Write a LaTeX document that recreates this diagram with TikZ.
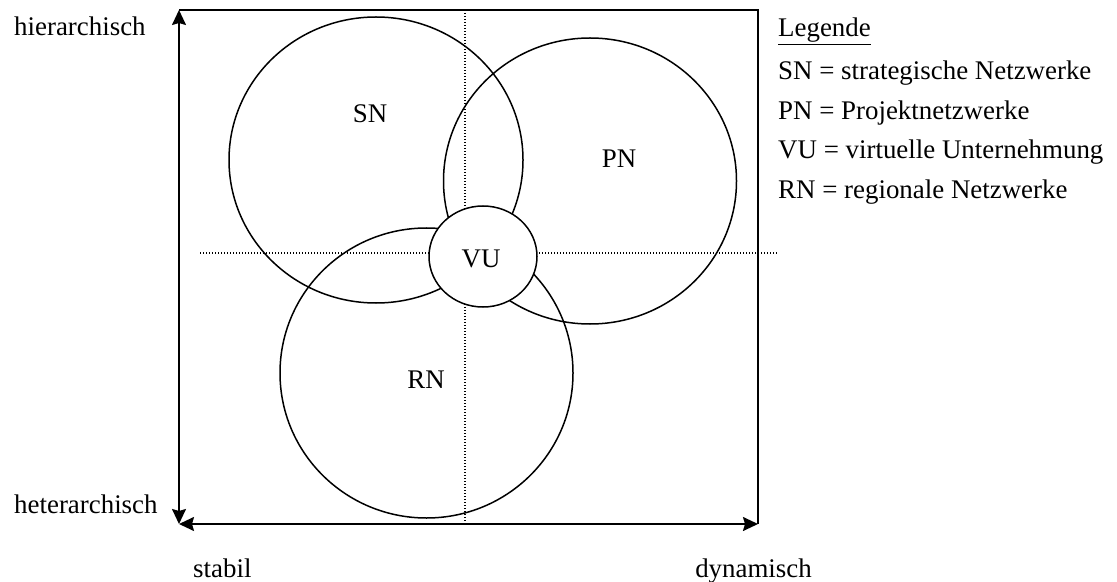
\documentclass[tikz,border=0pt]{standalone}
\usepackage{fontspec}
\setmainfont{Liberation Serif}
\usetikzlibrary{arrows.meta,shapes.geometric}
\tikzset{
  frame/.style={line width=1.8bp},
  axisarrow/.style={line width=1.8bp, {Stealth[length=15bp,width=14bp,inset=2bp]}-{Stealth[length=15bp,width=14bp,inset=2bp]}},
  guide/.style={line width=1.2bp, dash pattern=on 1.3bp off 1.7bp},
  netz/.style={draw, ellipse, line width=1.5bp, inner sep=0pt},
  lbl/.style={inner sep=0pt, anchor=base, font=\fontsize{27}{32}\selectfont},
  lblw/.style={lbl, anchor=base west},
  lble/.style={lbl, anchor=base east}
}
\begin{document}
\begin{tikzpicture}[x=1bp,y=-1bp]
\useasboundingbox (0,0) rectangle (1117,582);
% corners of the portfolio frame
\coordinate (tl) at (179,10);
\coordinate (tr) at (758,10);
\coordinate (bl) at (179,524);
\coordinate (br) at (758,524);
% dotted quadrant guides
\coordinate (vtop) at (465,13);
\coordinate (vbot) at (465,524);
\coordinate (hl) at (200,253);
\coordinate (hr) at (778,253);
\draw[guide] (vtop) -- (vbot);
\draw[guide] (hl) -- (hr);
% frame and axes
\draw[frame] (tl) -- (tr) -- (br);
\draw[axisarrow] (tl) -- (bl);
\draw[axisarrow] (bl) -- (br);
% network types
\node[netz, minimum width=294bp, minimum height=286bp] (sn) at (376,160) {};
\node[netz, minimum width=293bp, minimum height=286bp] (pn) at (590,181) {};
\node[netz, minimum width=293bp, minimum height=290bp] (rn) at (426.5,373) {};
\node[netz, fill=white, minimum width=108bp, minimum height=101bp] (vu) at (483,256.5) {};
\node[lbl] (snl) at (370,123) {SN};
\node[lbl] (pnl) at (619,168) {PN};
\node[lbl] (rnl) at (426,388) {RN};
\node[lbl] (vul) at (481,268) {VU};
% axis labels
\node[lblw] (hier) at (14,36) {hierarchisch};
\node[lblw] (hete) at (14,513) {heterarchisch};
\node[lblw] (stab) at (193,577) {stabil};
\node[lble] (dyn) at (812,577) {dynamisch};
% legend
\node[lblw] (leg) at (778,37) {\underline{Legende}};
\node[lblw] (leg1) at (778,80) {SN = strategische Netzwerke};
\node[lblw] (leg2) at (778,120) {PN = Projektnetzwerke};
\node[lblw] (leg3) at (778,159) {VU = virtuelle Unternehmung};
\node[lblw] (leg4) at (778,199) {RN = regionale Netzwerke};
\end{tikzpicture}
\end{document}
